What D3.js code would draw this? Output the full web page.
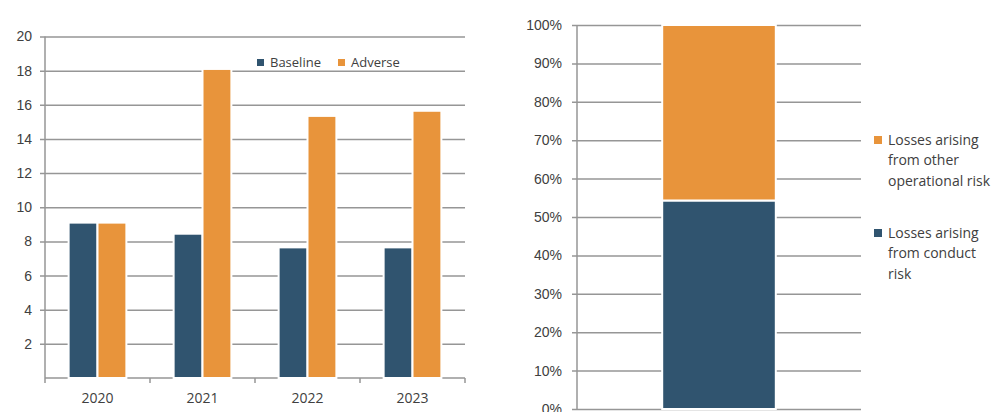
<!DOCTYPE html>
<html>
<head>
<meta charset="utf-8">
<script src="https://cdn.jsdelivr.net/npm/d3@7"></script>
<style>
  html, body { margin: 0; padding: 0; background: #fff; }
  svg { display: block; font-family: "Open Sans", "Noto Sans", sans-serif; }
</style>
</head>
<body>
<svg id="chart" width="998" height="412"></svg>
<script>
// Left panel: losses by year under two scenarios
const years = ["2020", "2021", "2022", "2023"];
const seriesNames = ["Baseline", "Adverse"];
const baseline = [9.1, 8.45, 7.65, 7.65];
const adverse = [9.1, 18.1, 15.35, 15.65];
const leftTicks = [2, 4, 6, 8, 10, 12, 14, 16, 18, 20];

// Right panel: composition of losses (share of total)
const compCategory = ["Total"];
const compNames = ["Losses arising from conduct risk", "Losses arising from other operational risk"];
const conductShare = [0.543];
const otherShare = [0.457];
const rightTicks = [0, 0.1, 0.2, 0.3, 0.4, 0.5, 0.6, 0.7, 0.8, 0.9, 1.0];

const BLUE = "#30546F";
const ORANGE = "#E8943B";
const GRID = "#969696";
const TEXT = "#404040";

const svg = d3.select("#chart");

// ---------- left panel ----------
const L = { left: 45, right: 465, top: 36.5, bottom: 378 };
const x0 = d3.scaleBand().domain(years).range([L.left, L.right]).padding(0);
const x1 = d3.scaleBand().domain(seriesNames)
  .range([x0.bandwidth() * 0.225, x0.bandwidth() * 0.775]).padding(0);
const yL = d3.scaleLinear().domain([0, 20]).range([L.bottom, L.top]);
const color = d3.scaleOrdinal().domain(seriesNames).range([BLUE, ORANGE]);

const gl = svg.append("g");

// horizontal gridlines with short outside ticks
const yAxisL = d3.axisLeft(yL).tickValues(leftTicks)
  .tickSize(L.right - L.left + 5).tickPadding(8).tickFormat(d3.format("d"));
gl.append("g").attr("transform", `translate(${L.right},0)`).call(yAxisL)
  .call(g => g.select(".domain").remove())
  .call(g => g.selectAll("line").attr("stroke", GRID).attr("stroke-width", 1.5))
  .call(g => g.selectAll("text").attr("fill", TEXT).style("font-size", "14px"));

// vertical axis line
gl.append("line").attr("x1", L.left).attr("x2", L.left)
  .attr("y1", yL(20)).attr("y2", L.bottom)
  .attr("stroke", GRID).attr("stroke-width", 1.5);

// bottom axis with category boundary ticks
gl.append("line").attr("x1", L.left).attr("x2", L.right)
  .attr("y1", L.bottom).attr("y2", L.bottom)
  .attr("stroke", GRID).attr("stroke-width", 1.5);
const boundaries = years.map(d => x0(d)).concat([x0(years[years.length - 1]) + x0.bandwidth()]);
gl.selectAll("line.xb").data(boundaries).join("line").attr("class", "xb")
  .attr("x1", d => d).attr("x2", d => d)
  .attr("y1", L.bottom).attr("y2", L.bottom + 5)
  .attr("stroke", GRID).attr("stroke-width", 1.5);

// bars
const rows = years.map((y, i) => ({ year: y, values: [
  { key: "Baseline", v: baseline[i] },
  { key: "Adverse", v: adverse[i] }
]}));
gl.selectAll("g.grp").data(rows).join("g").attr("class", "grp")
  .attr("transform", d => `translate(${x0(d.year)},0)`)
  .selectAll("rect").data(d => d.values).join("rect")
  .attr("x", d => x1(d.key))
  .attr("width", x1.bandwidth())
  .attr("y", d => yL(d.v))
  .attr("height", d => yL(0) - yL(d.v))
  .attr("fill", d => color(d.key))
  .attr("stroke", "#fff").attr("stroke-width", 2);

// x labels
gl.selectAll("text.xl").data(years).join("text").attr("class", "xl")
  .attr("x", d => x0(d) + x0.bandwidth() / 2)
  .attr("y", 403)
  .attr("text-anchor", "middle")
  .attr("fill", TEXT).style("font-size", "14px")
  .text(d => d);

// legend
const legL = gl.append("g");
const legItems = [{ k: "Baseline", x: 257 }, { k: "Adverse", x: 338 }];
legItems.forEach(it => {
  legL.append("rect").attr("x", it.x).attr("y", 59).attr("width", 7).attr("height", 7)
    .attr("fill", color(it.k));
  legL.append("text").attr("x", it.x + 13).attr("y", 62.5).attr("dy", "0.35em")
    .attr("fill", TEXT).style("font-size", "13px").text(it.k);
});

// ---------- right panel ----------
const R = { left: 577, right: 861, top: 25, bottom: 409 };
const xR = d3.scaleBand().domain(compCategory).range([R.left, R.right])
  .paddingInner(0.6).paddingOuter(0.3);
const yR = d3.scaleLinear().domain([0, 1]).range([R.bottom, R.top]);

const gr = svg.append("g");

const yAxisR = d3.axisLeft(yR).tickValues(rightTicks)
  .tickSize(R.right - R.left + 5).tickPadding(10).tickFormat(d3.format(".0%"));
gr.append("g").attr("transform", `translate(${R.right},0)`).call(yAxisR)
  .call(g => g.select(".domain").remove())
  .call(g => g.selectAll("line").attr("stroke", GRID).attr("stroke-width", 1.5))
  .call(g => g.selectAll("text").attr("fill", TEXT).style("font-size", "14px"));

gr.append("line").attr("x1", R.left).attr("x2", R.left)
  .attr("y1", yR(1)).attr("y2", R.bottom)
  .attr("stroke", GRID).attr("stroke-width", 1.5);

// stacked bar
const stackData = compCategory.map((c, i) => ({ cat: c, conduct: conductShare[i], other: otherShare[i] }));
const stack = d3.stack().keys(["conduct", "other"]);
const layers = stack(stackData);
const layerColor = { conduct: BLUE, other: ORANGE };
gr.selectAll("g.layer").data(layers).join("g").attr("class", "layer")
  .attr("fill", d => layerColor[d.key])
  .selectAll("rect").data(d => d).join("rect")
  .attr("x", d => xR(d.data.cat))
  .attr("width", xR.bandwidth())
  .attr("y", d => yR(d[1]))
  .attr("height", d => yR(d[0]) - yR(d[1]))
  .attr("stroke", "#fff").attr("stroke-width", 2);

// legend
const legR = [
  { color: ORANGE, lines: ["Losses arising", "from other", "operational risk"], y: 140 },
  { color: BLUE, lines: ["Losses arising", "from conduct", "risk"], y: 233 }
];
legR.forEach(it => {
  gr.append("rect").attr("x", 874).attr("y", it.y - 4).attr("width", 8).attr("height", 8)
    .attr("fill", it.color);
  it.lines.forEach((ln, j) => {
    gr.append("text").attr("x", 888).attr("y", it.y + j * 20.3).attr("dy", "0.35em")
      .attr("fill", TEXT).style("font-size", "14px").text(ln);
  });
});
</script>
</body>
</html>
